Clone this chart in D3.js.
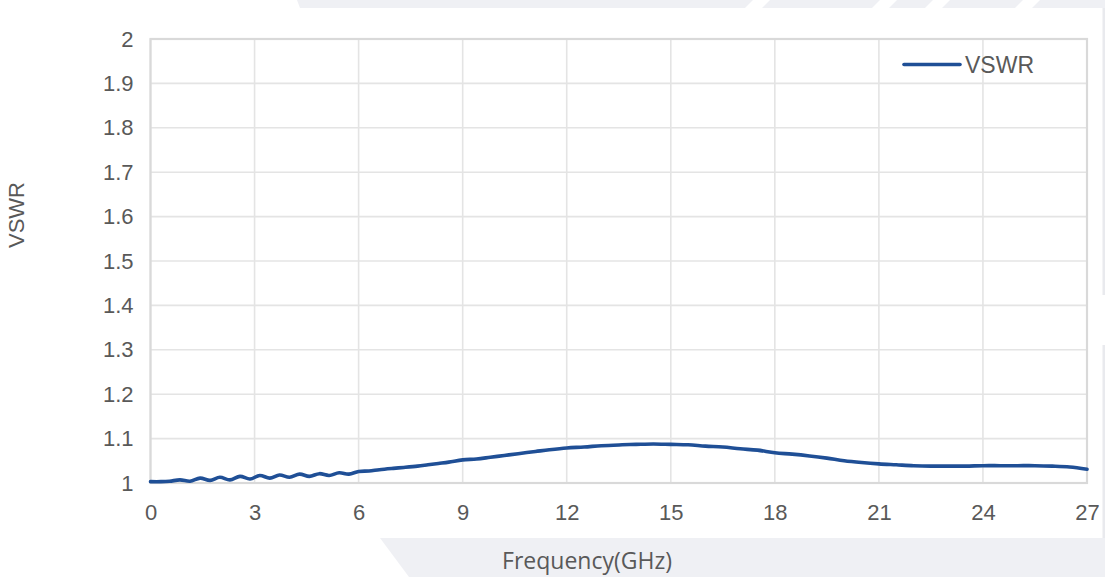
<!DOCTYPE html>
<html>
<head>
<meta charset="utf-8">
<script src="https://cdn.jsdelivr.net/npm/d3@7"></script>
<style>
  html, body { margin: 0; padding: 0; background: #ffffff; }
  svg { display: block; }
</style>
</head>
<body>
<svg id="chart" width="1105" height="577"></svg>
<script>
// ---- data ----
const freqGHz = [0, 0.3, 0.55, 0.85, 1.14, 1.43, 1.72, 2.0, 2.29, 2.58, 2.87, 3.15, 3.44, 3.72, 4.01, 4.3, 4.58, 4.87, 5.15, 5.44, 5.72, 6.0,
  6.3, 6.6, 7.0, 7.3, 7.7, 8.0, 8.3, 8.6, 9.0, 9.4, 9.8, 10.2, 10.6, 11.1, 11.5, 12.0, 12.5, 13.0, 13.6, 14.0, 14.5, 15.0,
  15.5, 16.0, 16.5, 17.0, 17.5, 18.0, 18.5, 19.0, 19.5, 20.0, 20.5, 21.0, 21.5, 22.0, 22.5, 23.0, 23.5, 24.0, 24.5, 25.0,
  25.5, 26.0, 26.5, 27.0];
const vswr = [1.003, 1.003, 1.004, 1.007, 1.004, 1.011, 1.006, 1.013, 1.007, 1.015, 1.009, 1.017, 1.011, 1.018, 1.013, 1.020, 1.015, 1.021, 1.017, 1.023, 1.020, 1.026,
  1.027, 1.030, 1.033, 1.035, 1.038, 1.041, 1.044, 1.047, 1.052, 1.054, 1.058, 1.062, 1.066, 1.071, 1.075, 1.079, 1.081, 1.084, 1.086, 1.087, 1.088, 1.087,
  1.086, 1.083, 1.081, 1.077, 1.074, 1.068, 1.065, 1.061, 1.056, 1.050, 1.046, 1.043, 1.041, 1.039, 1.038, 1.038, 1.038, 1.039, 1.039, 1.039,
  1.039, 1.038, 1.036, 1.031];
const xTicks = [0, 3, 6, 9, 12, 15, 18, 21, 24, 27];
const yTicks = [1, 1.1, 1.2, 1.3, 1.4, 1.5, 1.6, 1.7, 1.8, 1.9, 2];
const seriesName = "VSWR";
const xTitle = "Frequency(GHz)";
const yTitle = "VSWR";

// ---- layout ----
const svg = d3.select("#chart");
const plot = { left: 150.5, right: 1087, top: 39, bottom: 483 };
const lineColor = "#1f4f96";
const textColor = "#595959";

// background decorations
const deco = svg.append("g");
deco.append("polygon").attr("points", "297,0 1105,0 1105,8 300,8").attr("fill", "#eff0f4");
[[745, 762], [872, 889], [925, 942], [1015, 1032]].forEach(([a, b]) => {
  deco.append("polygon")
    .attr("points", `${a},8 ${a + 8},0 ${b + 8},0 ${b},8`)
    .attr("fill", "#ffffff");
});
deco.append("polygon").attr("points", "380,538 1105,538 1105,577 409,577").attr("fill", "#eff0f4");
deco.append("rect").attr("x", 1102.5).attr("y", 8).attr("width", 2.5).attr("height", 287).attr("fill", "#e9eaee");
deco.append("rect").attr("x", 1102.5).attr("y", 345).attr("width", 2.5).attr("height", 193).attr("fill", "#e9eaee");

// scales
const x = d3.scaleLinear().domain([0, 27]).range([plot.left, plot.right]);
const y = d3.scaleLinear().domain([1, 2]).range([plot.bottom, plot.top]);

// gridlines
const grid = svg.append("g");
grid.selectAll("line.v").data(xTicks).join("line")
  .attr("x1", d => x(d)).attr("x2", d => x(d))
  .attr("y1", plot.top).attr("y2", plot.bottom)
  .attr("stroke", "#e4e4e4").attr("stroke-width", 1.6);
grid.selectAll("line.h").data(yTicks).join("line")
  .attr("x1", plot.left).attr("x2", plot.right)
  .attr("y1", d => y(d)).attr("y2", d => y(d))
  .attr("stroke", "#e4e4e4").attr("stroke-width", 1.6);

// plot border
svg.append("rect")
  .attr("x", plot.left).attr("y", plot.top)
  .attr("width", plot.right - plot.left).attr("height", plot.bottom - plot.top)
  .attr("fill", "none").attr("stroke", "#d9d9d9").attr("stroke-width", 2.2);

// axes (labels only)
const fmtY = d => d3.format("~g")(d);
const yAxis = svg.append("g")
  .attr("transform", `translate(${plot.left},0)`)
  .call(d3.axisLeft(y).tickValues(yTicks).tickFormat(fmtY).tickSize(0).tickPadding(17));
const xAxis = svg.append("g")
  .attr("transform", `translate(0,${plot.bottom})`)
  .call(d3.axisBottom(x).tickValues(xTicks).tickFormat(d3.format("d")).tickSize(0).tickPadding(21));
[yAxis, xAxis].forEach(a => {
  a.select(".domain").remove();
  a.selectAll("text")
    .attr("fill", textColor)
    .style("font-family", "'Liberation Sans', Arial, sans-serif")
    .style("font-size", "22px");
});

// series line
const line = d3.line()
  .x((d, i) => x(freqGHz[i]))
  .y(d => y(d))
  .curve(d3.curveCatmullRom.alpha(0.5));
svg.append("path")
  .datum(vswr)
  .attr("d", line)
  .attr("fill", "none")
  .attr("stroke", lineColor)
  .attr("stroke-width", 3.6)
  .attr("stroke-linejoin", "round")
  .attr("stroke-linecap", "round");

// legend
const legend = svg.append("g");
legend.append("line")
  .attr("x1", 904).attr("x2", 960).attr("y1", 64.5).attr("y2", 64.5)
  .attr("stroke", lineColor).attr("stroke-width", 3.6).attr("stroke-linecap", "round");
legend.append("text")
  .attr("x", 965).attr("y", 72.5)
  .attr("fill", textColor)
  .style("font-family", "'Liberation Sans', Arial, sans-serif")
  .style("font-size", "23px")
  .text(seriesName);

// axis titles
svg.append("text")
  .attr("transform", "translate(24,215) rotate(-90)")
  .attr("text-anchor", "middle")
  .attr("fill", textColor)
  .style("font-family", "'Liberation Sans', Arial, sans-serif")
  .style("font-size", "22px")
  .text(yTitle);
svg.append("text")
  .attr("x", 587).attr("y", 569)
  .attr("text-anchor", "middle")
  .attr("fill", textColor)
  .style("font-family", "'Open Sans', sans-serif")
  .style("font-size", "23px")
  .text(xTitle);
</script>
</body>
</html>
